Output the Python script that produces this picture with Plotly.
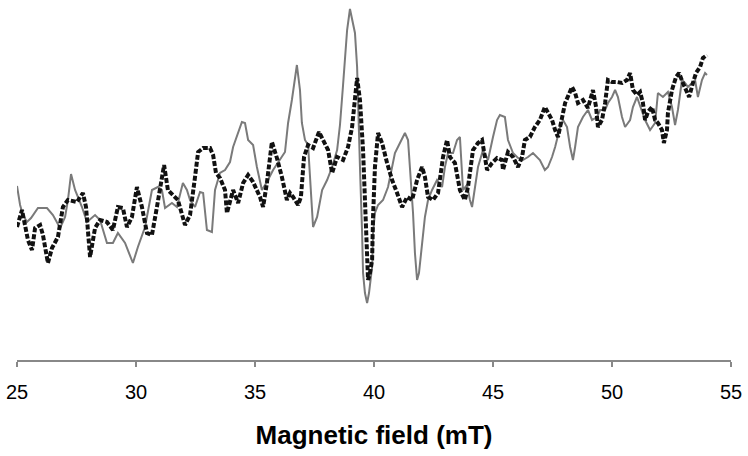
import plotly.graph_objects as go

# Gray trace (field in mT, intensity in a.u.)
gray_field = [25.00,25.13,25.25,25.42,25.59,25.76,25.88,26.26,26.51,26.81,27.02,27.14,27.27,27.44,27.73,27.94,
              28.28,28.49,28.78,29.03,29.24,29.54,29.87,30.08,30.38,30.67,30.92,31.09,31.22,31.51,31.72,31.97,
              32.14,32.27,32.48,32.69,32.82,32.98,33.19,33.32,33.53,33.74,33.95,34.08,34.24,34.45,34.58,34.71,
              34.92,35.08,35.29,35.50,35.76,36.05,36.26,36.39,36.55,36.76,36.89,36.97,37.10,37.23,37.35,37.44,
              37.61,37.82,38.03,38.24,38.45,38.57,38.70,38.87,38.99,39.12,39.20,39.29,39.33,39.41,39.50,39.54,
              39.62,39.71,39.79,39.92,39.96,40.04,40.17,40.38,40.59,40.76,40.88,41.09,41.30,41.43,41.51,41.64,
              41.72,41.81,41.89,42.02,42.14,42.27,42.44,42.65,42.86,42.98,43.11,43.32,43.49,43.61,43.74,43.91,
              44.03,44.12,44.24,44.37,44.58,44.79,45.00,45.17,45.29,45.50,45.63,45.84,46.05,46.26,46.47,46.68,
              46.97,47.18,47.31,47.48,47.61,47.82,47.94,48.11,48.24,48.36,48.45,48.57,48.78,48.99,49.16,49.37,
              49.50,49.71,49.83,50.00,50.13,50.25,50.42,50.55,50.76,50.88,51.05,51.26,51.39,51.60,51.81,51.93,
              52.14,52.35,52.52,52.65,52.77,52.94,53.07,53.19,53.36,53.49,53.61,53.78,53.91,53.99]
gray_signal = [169,150,140,133,137,143,147,147,140,127,138,155,181,165,148,133,
               140,135,112,112,122,112,92,108,128,165,168,165,147,152,148,172,
               165,155,148,163,162,125,123,165,182,185,193,208,218,233,232,215,
               210,188,165,173,185,195,203,232,255,290,265,232,215,210,165,128,
               138,165,175,188,205,230,270,325,346,330,322,288,248,188,122,82,
               62,52,62,88,122,142,150,155,168,188,202,212,222,215,188,142,
               102,75,82,115,138,155,165,175,168,188,202,202,215,218,165,170,
               155,148,165,188,205,195,218,235,240,238,215,202,197,195,198,202,
               195,185,188,198,208,228,235,228,208,195,208,228,238,245,235,238,
               245,245,252,258,265,258,238,228,235,248,258,245,235,225,232,262,
               258,263,248,230,245,275,272,268,272,275,258,275,282,280]

# Black dotted trace
black_field = [25.00,25.21,25.46,25.63,25.76,25.97,26.09,26.30,26.47,26.72,26.93,27.14,27.52,27.77,27.90,28.07,
               28.28,28.49,28.78,29.03,29.24,29.45,29.62,29.83,30.04,30.25,30.46,30.67,30.88,31.18,31.34,31.76,
               32.06,32.27,32.48,32.61,32.82,33.11,33.24,33.36,33.53,33.74,33.82,33.95,34.08,34.29,34.50,34.71,
               34.92,35.21,35.34,35.50,35.71,35.92,36.13,36.34,36.47,36.60,36.81,36.93,37.06,37.23,37.44,37.69,
               37.86,38.07,38.24,38.45,38.70,38.91,39.08,39.20,39.29,39.41,39.54,39.62,39.71,39.75,39.83,39.92,
               39.96,40.04,40.17,40.34,40.55,40.76,40.97,41.18,41.39,41.60,41.81,42.02,42.14,42.27,42.48,42.69,
               42.90,43.07,43.19,43.40,43.61,43.82,43.95,44.03,44.16,44.37,44.54,44.66,44.75,44.96,45.17,45.38,
               45.42,45.63,45.84,46.05,46.22,46.34,46.55,46.76,46.97,47.18,47.31,47.48,47.61,47.73,47.82,48.03,
               48.32,48.45,48.57,48.78,48.99,49.20,49.33,49.41,49.58,49.71,49.83,50.00,50.21,50.42,50.63,50.76,
               50.88,51.05,51.18,51.30,51.39,51.51,51.68,51.81,51.93,52.10,52.18,52.31,52.35,52.52,52.69,52.82,
               52.98,53.11,53.24,53.40,53.53,53.70,53.82,53.99]
black_signal = [128,145,115,105,127,130,120,92,107,118,148,155,153,162,148,98,
                127,135,133,125,148,147,128,138,168,148,122,120,148,190,165,155,
                130,140,178,203,207,207,200,182,177,165,142,155,165,152,172,180,
                173,158,148,172,213,197,178,155,162,158,150,158,198,210,207,223,
                215,205,182,198,195,208,228,262,277,255,205,155,105,75,82,95,
                138,188,222,212,192,175,162,148,158,155,175,188,178,158,155,162,
                198,215,198,192,165,155,168,185,205,212,215,198,185,192,197,195,
                185,203,198,188,198,215,218,228,235,248,242,235,225,218,228,252,
                268,262,252,255,247,265,248,228,235,252,275,273,273,272,275,282,
                265,260,263,252,235,243,248,235,232,225,212,225,242,265,278,282,
                272,265,258,272,282,288,297,300]

x_ticks = [25, 30, 35, 40, 45, 50, 55]

fig = go.Figure()
fig.add_trace(go.Scatter(x=gray_field, y=gray_signal, mode="lines",
                         line=dict(color="#7a7a7a", width=2), showlegend=False,
                         hoverinfo="skip"))
fig.add_trace(go.Scatter(x=black_field, y=black_signal, mode="lines",
                         line=dict(color="#111111", width=4, dash="5px,2px"), showlegend=False,
                         hoverinfo="skip"))

fig.update_layout(
    width=748, height=456,
    margin=dict(l=17, r=17, t=8, b=96),
    paper_bgcolor="white", plot_bgcolor="white",
    font=dict(family="Liberation Sans, Arial, sans-serif", color="black"),
    xaxis=dict(range=[25, 55], tickvals=x_ticks, ticktext=[str(v) for v in x_ticks],
               showline=True, linecolor="#888888", linewidth=1.5,
               ticks="outside", ticklen=5, tickcolor="#888888", tickwidth=1.5,
               ticklabelstandoff=8,
               showgrid=False, zeroline=False, automargin=False,
               tickfont=dict(size=20, color="black"),
               title=dict(text="<b>Magnetic field (mT)</b>", font=dict(size=26, color="black"),
                          standoff=24)),
    yaxis=dict(range=[-5, 347], visible=False, showgrid=False, zeroline=False),
)

fig.write_html("out.html",
               config={"displayModeBar": False, "staticPlot": True},
               post_script="document.body.style.margin='0px';document.body.style.overflow='hidden';")
